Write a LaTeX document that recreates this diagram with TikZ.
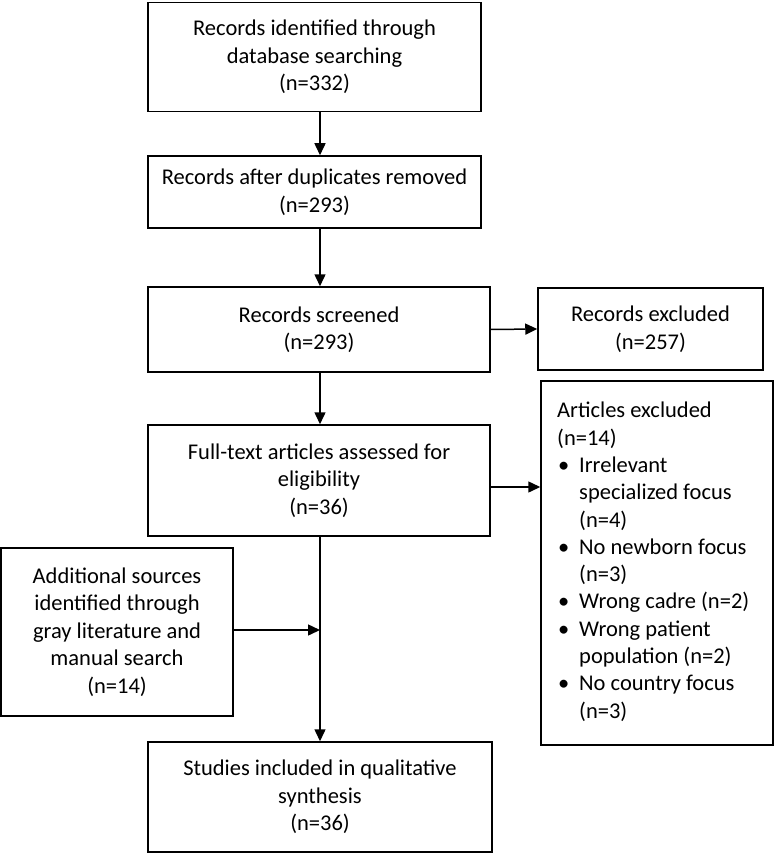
\documentclass[tikz,border=0pt]{standalone}
\usepackage{fontspec}
\setmainfont{Carlito}
\usetikzlibrary{arrows.meta}
\begin{document}
\begin{tikzpicture}[x=1pt,y=-1pt,
  box/.style={draw=black, line width=1.5pt, align=center, inner sep=0pt,
    font=\fontsize{22.5}{27.5}\selectfont},
  arr/.style={line width=1.5pt, -{Triangle[length=12pt,width=11pt]}},
  ln/.style={line width=1.5pt}]
\useasboundingbox (0,0) rectangle (774,853);
\node[box, minimum width=333pt, minimum height=109pt] (b1) at (314.5,57)
  {Records identified through\\database searching\\(n=332)};
\node[box, minimum width=333pt, minimum height=72pt] (b2) at (314.5,192)
  {Records after duplicates removed\\(n=293)};
\node[box, minimum width=342pt, minimum height=85pt] (b3) at (319,329.5)
  {Records screened\\(n=293)};
\node[box, minimum width=342pt, minimum height=111pt] (b4) at (319,480.5)
  {Full-text articles assessed for\\eligibility\\(n=36)};
\node[box, minimum width=344pt, minimum height=110pt] (b5) at (320,797)
  {Studies included in qualitative\\synthesis\\(n=36)};
\node[box, minimum width=225pt, minimum height=82pt] (rx) at (650.5,329)
  {Records excluded\\(n=257)};
\node[box, minimum width=232pt, minimum height=364pt] (ax) at (657,563) {};
\node[anchor=north west, inner sep=0pt, align=left,
  font=\fontsize{22.5}{27.3}\selectfont] (axt) at (557,402)
  {Articles excluded\\
   (n=14)\\
   \hspace*{1pt}\makebox[21pt][l]{\textbullet}Irrelevant\\
   \hspace*{22pt}specialized focus\\
   \hspace*{22pt}(n=4)\\
   \hspace*{1pt}\makebox[21pt][l]{\textbullet}No newborn focus\\
   \hspace*{22pt}(n=3)\\
   \hspace*{1pt}\makebox[21pt][l]{\textbullet}Wrong cadre (n=2)\\
   \hspace*{1pt}\makebox[21pt][l]{\textbullet}Wrong patient\\
   \hspace*{22pt}population (n=2)\\
   \hspace*{1pt}\makebox[21pt][l]{\textbullet}No country focus\\
   \hspace*{22pt}(n=3)};
\node[box, minimum width=232pt, minimum height=168pt] (ad) at (117,632)
  {Additional sources\\identified through\\gray literature and\\manual search\\(n=14)};
\coordinate (j) at (320,630);
\draw[arr] (b1.south -| 320,0) -- (b2.north -| 320,0);
\draw[arr] (b2.south -| 320,0) -- (b3.north -| 320,0);
\draw[arr] (b3.south -| 320,0) -- (b4.north -| 320,0);
\draw[arr] (b4.south -| 320,0) -- (b5.north -| 320,0);
\draw[arr] (b3.east) -- (rx.west);
\draw[arr] (b4.east |- 0,487) -- (ax.west |- 0,487);
\draw[arr] (ad.east |- j) -- (j);
\end{tikzpicture}
\end{document}
